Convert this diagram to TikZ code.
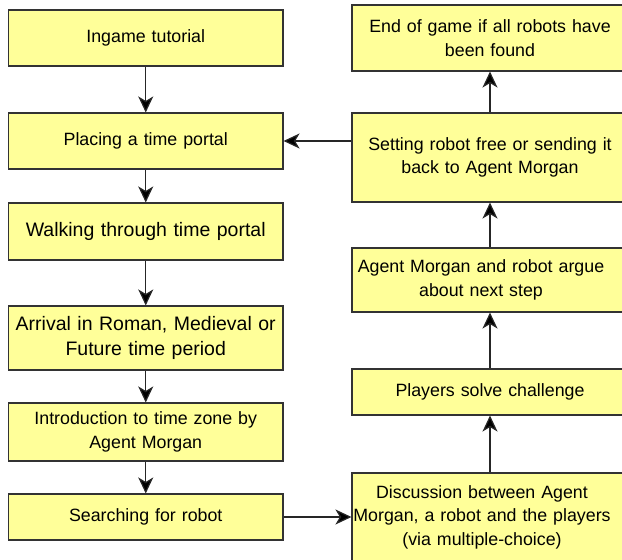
\documentclass[tikz,border=0pt]{standalone}
\usepackage{fontspec}
\setmainfont{Liberation Sans}
\usetikzlibrary{arrows.meta}
\begin{document}
\begin{tikzpicture}[x=1pt,y=1pt,
  box/.style={draw=black!80, fill=boxyellow, line width=1.1pt, inner sep=0pt, align=center,
    font=\fontsize{17.8}{23.5}\selectfont, rectangle},
  bigtext/.style={font=\fontsize{19.5}{25.8}\selectfont},
  lbox/.style={box, minimum width=274.5pt, text width=272pt},
  rbox/.style={box, minimum width=276pt, text width=274pt},
  arr/.style={draw=black!85, line width=1.2pt, -{Stealth[length=16pt,width=15pt,inset=4.5pt,fill=black]}}]
\definecolor{boxyellow}{RGB}{255,255,153}
\useasboundingbox (0,0) rectangle (622,560);
\clip (0,0) rectangle (622,560);
% left column (y = 560 - pixel y)
\node[lbox, minimum height=56pt] (a1) at (145.75,522) {Ingame tutorial};
\node[lbox, minimum height=56pt] (a2) at (145.75,419) {Placing a time portal};
\node[lbox, bigtext, minimum height=57pt] (a3) at (145.75,328.5) {Walking through time portal};
\node[lbox, bigtext, minimum height=64pt] (a4) at (145.75,222) {Arrival in Roman, Medieval or\\Future time period};
\node[lbox, minimum height=58pt] (a5) at (145.75,128) {Introduction to time zone by\\Agent Morgan};
\node[lbox, minimum height=46pt] (a6) at (145.75,43) {Searching for robot};
% right column
\node[rbox, minimum height=66pt] (b1) at (490,522) {End of game if all robots have\\been found};
\node[rbox, minimum height=89pt] (b2) at (490,402.5) {Setting robot free or sending it\\back to Agent Morgan};
\node[rbox, minimum height=64pt] (b3) at (490,280) {\hspace*{-18pt}\parbox{274pt}{\centering Agent Morgan and robot argue\\about next step}};
\node[rbox, minimum height=46pt] (b4) at (490,168) {Players solve challenge};
\node[rbox, minimum height=88pt] (b5) at (490,43) {\hspace*{-16pt}\parbox{274pt}{\centering Discussion between Agent\\Morgan, a robot and the players\\(via multiple-choice)}};
% connectors
\draw[arr] (a1) -- (a2);
\draw[arr] (a2) -- (a3);
\draw[arr] (a3) -- (a4);
\draw[arr] (a4) -- (a5);
\draw[arr] (a5) -- (a6);
\draw[arr] (a6) -- (b5);
\draw[arr] (b5) -- (b4);
\draw[arr] (b4) -- (b3);
\draw[arr] (b3) -- (b2);
\draw[arr] (b2) -- (b1);
\draw[arr] (b2.west |- a2.east) -- (a2.east);
\end{tikzpicture}
\end{document}
